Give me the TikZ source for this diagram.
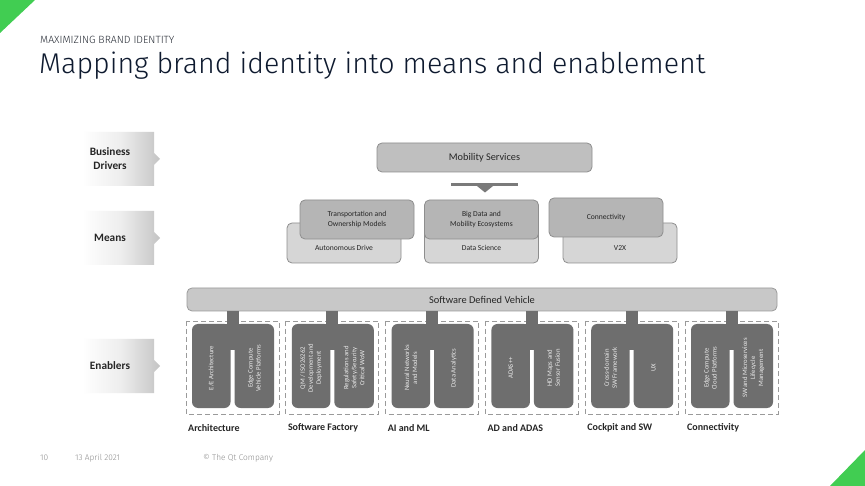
\documentclass[tikz,border=0pt]{standalone}
\usepackage{fontspec}
\setmainfont{Carlito}
\newfontfamily\qtfont{Fira Sans Light}
\usetikzlibrary{calc}
\definecolor{qtgreen}{HTML}{41CD52}
\definecolor{titlecol}{HTML}{0E1A2F}
\definecolor{kickcol}{HTML}{2A2F38}
\definecolor{footcol}{HTML}{8C8C8C}
\definecolor{lblgray}{HTML}{C4C4C4}
\definecolor{msfill}{HTML}{BFBFBF}
\definecolor{frontfill}{HTML}{B5B5B5}
\definecolor{backfill}{HTML}{D6D6D6}
\definecolor{boxline}{HTML}{8E8E8E}
\definecolor{sdvfill}{HTML}{C8C8C8}
\definecolor{engray}{HTML}{6E6E6E}
\definecolor{dashcol}{HTML}{9A9A9A}
\definecolor{arrowgray}{HTML}{7A7A7A}
\definecolor{txtcol}{HTML}{262626}
\tikzset{
  rbox/.style={draw=boxline, line width=0.8pt, rounded corners=5pt, inner sep=0pt, text=txtcol},
  msbox/.style={rbox, fill=msfill, font=\fontsize{10.3}{12}\selectfont},
  frontbox/.style={rbox, fill=frontfill, align=center, font=\fontsize{7.6}{9.5}\selectfont},
  backbox/.style={rbox, fill=backfill},
  smalltxt/.style={font=\fontsize{7.6}{9.5}\selectfont, inner sep=0pt, text=txtcol},
  lbltxt/.style={font=\bfseries\fontsize{11.3}{14}\selectfont, align=center, inner sep=0pt, text=txtcol},
  grptxt/.style={font=\bfseries\fontsize{10}{12}\selectfont, anchor=west, inner sep=0pt, text=txtcol},
  vtxt/.style={rotate=90, text=white!92!black, align=center, font=\fontsize{6.7}{8}\selectfont, inner sep=0pt},
  grpbox/.style={draw=dashcol, line width=0.8pt, dash pattern=on 5pt off 3pt},
  foot/.style={font=\qtfont\fontsize{8.3}{9}\selectfont, text=footcol, anchor=base west, inner sep=0pt}
}
\begin{document}
\begin{tikzpicture}[x=1pt,y=-1pt]
\useasboundingbox (0,0) rectangle (865,486);
\fill[white] (0,0) rectangle (865,486);
% corner triangles
\fill[qtgreen] (0,0) -- (35,0) -- (0,33) -- cycle;
\fill[qtgreen] (865,450) -- (865,486) -- (830,486) -- cycle;
% titles
\node[anchor=base west, inner sep=0pt, text=kickcol, font=\qtfont\fontsize{10.5}{12}\selectfont] (kicker) at (40,44) {MAXIMIZING BRAND IDENTITY};
\node[anchor=base west, inner sep=0pt, text=titlecol, font=\qtfont\fontsize{28.6}{32}\selectfont] (title) at (39,74) {Mapping brand identity into means and enablement};
% row labels
\foreach \yt/\yb/\nm/\txt in {132/186/bd/{Business\\Drivers}, 211/265/mn/{Means}, 339/393/en/{Enablers}}{
  \pgfmathsetmacro{\ym}{(\yt+\yb)/2}
  \shade[left color=white, right color=lblgray, middle color=white!70!lblgray]
     (82,\yt) -- (154,\yt) -- (154,\ym-6) -- (160,\ym) -- (154,\ym+6) -- (154,\yb) -- (82,\yb) -- cycle;
  \node[lbltxt] (\nm) at (110,\ym) {\txt};
}
% Mobility services
\node[msbox, minimum width=215pt, minimum height=29pt] (ms) at (484.5,157.5) {Mobility Services};
\coordinate (arL) at (451,185);
\coordinate (arR) at (518,185);
\draw[arrowgray, line width=3pt] (arL) -- (arR);
\fill[arrowgray] (477,186) -- (493,186) -- (485,192.5) -- cycle;
% Means: back boxes
\node[backbox, minimum width=114pt, minimum height=40pt] (ad) at (344,243) {};
\node[smalltxt] at (344,248) {Autonomous Drive};
\node[backbox, minimum width=114pt, minimum height=40pt] (ds) at (481.5,243) {};
\node[smalltxt] at (481.5,248) {Data Science};
\node[backbox, minimum width=114pt, minimum height=40pt] (v2x) at (620,243) {};
\node[smalltxt] at (620,248) {V2X};
% Means: front boxes
\node[frontbox, minimum width=114pt, minimum height=39pt] (tom) at (357,219.5) {Transportation and\\Ownership Models};
\node[frontbox, minimum width=114pt, minimum height=39pt] (bdm) at (481.5,219.5) {Big Data and\\Mobility Ecosystems};
\node[frontbox, minimum width=114pt, minimum height=39pt] (con) at (606,217.5) {Connectivity};
% Software defined vehicle
\node[rbox, draw=dashcol, fill=sdvfill, minimum width=590pt, minimum height=23pt, font=\fontsize{10.4}{12}\selectfont] (sdv) at (482,299.5) {Software Defined Vehicle};
% enabler groups
\foreach \i/\lt/\rt/\lab in {
  0/{E/E Architecture}/{Edge Compute\\Vehicle Platforms}/{Architecture},
  1/{QM / ISO26262\\Development and\\Deployment}/{Regulations and\\Safety/Security\\Critical WoW}/{Software Factory},
  2/{Neural Networks\\and Models}/{Data Analytics}/{AI and ML},
  3/{ADAS++}/{HD Maps and\\Sensor Fusion}/{AD and ADAS},
  4/{Cross-domain\\SW Framework}/{UX}/{Cockpit and SW},
  5/{Edge Compute\\Cloud Platforms}/{SW and Microservices\\Lifecycle\\Management}/{Connectivity}}{
  \pgfmathsetmacro{\gl}{186+99.8*\i}
  \pgfmathsetmacro{\gr}{\gl+93}
  \pgfmathsetmacro{\m}{\gl+46.5}
  \pgfmathsetmacro{\L}{\gl+6}
  \pgfmathsetmacro{\R}{\gr-5}
  \draw[grpbox] (\gl,321) rectangle (\gr,414);
  \coordinate (stem\i) at (\m,324);
  \fill[engray] (sdv.south -| stem\i) ++(-6,0) rectangle ($(stem\i)+(6,1)$);
  \fill[engray, rounded corners=6pt] (\L,324) rectangle (\m-2,408);
  \fill[engray, rounded corners=6pt] (\m+2,324) rectangle (\R,408);
  \fill[engray] (\m-8,324) rectangle (\m+8,350);
  \node[vtxt] (lt\i) at ({(\L+\m-2)/2},368) {\lt};
  \node[vtxt] (rt\i) at ({(\m+2+\R)/2},368) {\rt};
  \node[grptxt] (lab\i) at (\gl+2,428) {\lab};
}
% footer
\node[foot] (pg) at (40,460) {10};
\node[foot] (dt) at (75,460) {13 April 2021};
\node[foot] (cp) at (203,460) {\textcopyright{} The Qt Company};
\end{tikzpicture}
\end{document}
